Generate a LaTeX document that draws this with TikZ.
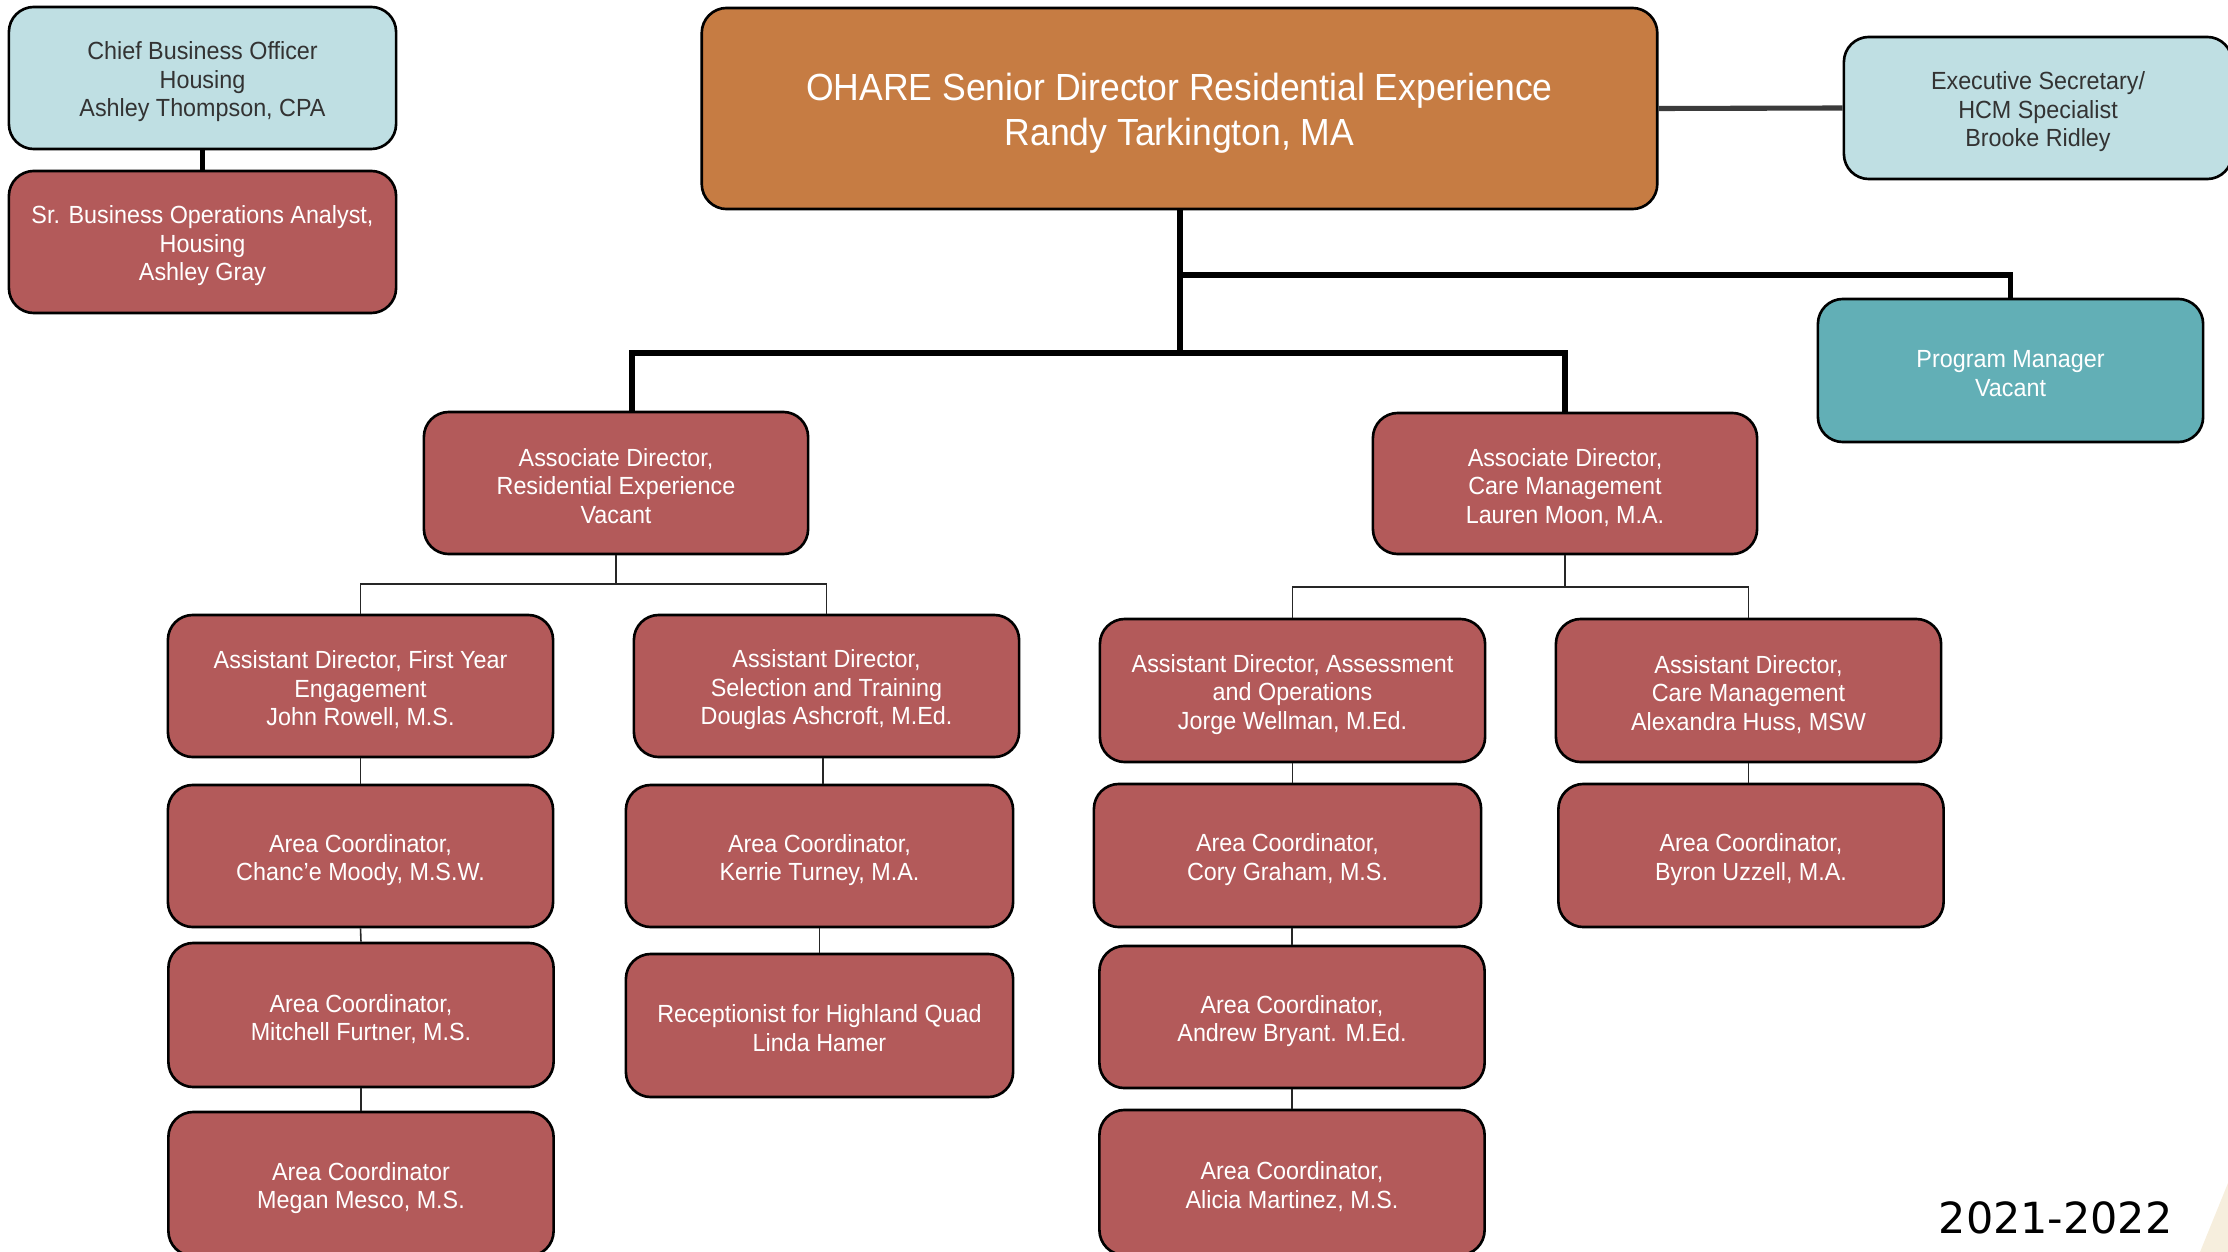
\documentclass[tikz,border=0pt]{standalone}
\usepackage{fontspec}
\setmainfont{Liberation Sans}[FakeStretch=0.94]
\newfontfamily\yearfont{DejaVu Sans}
\newcommand\boxfont{\fontsize{7.06pt}{8.1pt}\selectfont}
\newcommand\topfont{\fontsize{10.75pt}{12.8pt}\selectfont}
\newcommand\bxt[1]{\rule{0pt}{7.4pt}#1\rule[-0.8pt]{0pt}{0pt}}
\newcommand\ohtext[1]{\rule{0pt}{10.6pt}#1\rule[-2.1pt]{0pt}{0pt}}
\definecolor{redbox}{HTML}{B35A5A}
\definecolor{orangebox}{HTML}{C67C43}
\definecolor{lightbox}{HTML}{BFDFE3}
\definecolor{tealbox}{HTML}{62AFB6}
\definecolor{textgray}{HTML}{333333}
\definecolor{beige}{HTML}{F6EEDD}
\definecolor{linegray}{HTML}{3B3B3B}
\begin{document}
\begin{tikzpicture}[x=0.01cm,y=-0.01cm,
  box/.style={draw=black, line width=0.75pt, rounded corners=0.25cm,
    minimum width=3.85cm, minimum height=1.42cm, align=center,
    inner sep=0pt, font=\boxfont},
  redb/.style={box, fill=redbox, text=white},
  blueb/.style={box, fill=lightbox, text=textgray},
  tealb/.style={box, fill=tealbox, text=white},
  thickline/.style={line width=1.45pt, black},
  thinline/.style={line width=0.45pt, black!85}]
\useasboundingbox (0,0) rectangle (2228,1252);
\clip (0,0) rectangle (2228,1252);

% decoration
\fill[beige] (2200,1252) -- (2228,1183) -- (2228,1252) -- cycle;

% top level
\node[box, fill=orangebox, text=white, font=\topfont,
  minimum width=9.55cm, minimum height=2.01cm] (ohare) at (1179.5,108.5)
  {\ohtext{OHARE Senior Director Residential Experience\\Randy Tarkington, MA}};
\node[blueb, minimum width=3.87cm] (cbo) at (202.5,78)
  {\bxt{Chief Business Officer\\Housing\\Ashley Thompson, CPA}};
\node[redb, minimum width=3.87cm] (sba) at (202.5,242)
  {\bxt{Sr. Business Operations Analyst,\\Housing\\Ashley Gray}};
\node[blueb, minimum width=3.88cm] (exec) at (2038,108)
  {\bxt{Executive Secretary/\\HCM Specialist\\Brooke Ridley}};
\node[tealb, minimum height=1.43cm] (pm) at (2010.5,370.5)
  {\bxt{Program Manager\\Vacant}};

% associate directors
\node[redb, minimum width=3.84cm] (adres) at (616,483)
  {\bxt{Associate Director,\\Residential Experience\\Vacant}};
\node[redb, minimum width=3.84cm, minimum height=1.41cm] (adcare) at (1565,483.5)
  {\bxt{Associate Director,\\Care Management\\Lauren Moon, M.A.}};

% assistant directors
\node[redb] (a1) at (360.5,686)
  {\bxt{Assistant Director, First Year\\Engagement\\John Rowell, M.S.}};
\node[redb] (a2) at (826.5,686)
  {\bxt{Assistant Director,\\Selection and Training\\Douglas Ashcroft, M.Ed.}};
\node[redb, minimum height=1.43cm] (b1) at (1292.5,690.5)
  {\bxt{Assistant Director, Assessment\\and Operations\\Jorge Wellman, M.Ed.}};
\node[redb, minimum height=1.43cm] (b2) at (1748.5,690.5)
  {\bxt{Assistant Director,\\Care Management\\Alexandra Huss, MSW}};

% area coordinators
\node[redb] (a1c1) at (360.5,856) {\bxt{Area Coordinator,\\Chanc'e Moody, M.S.W.}};
\node[redb, minimum height=1.44cm] (a1c2) at (361,1015) {\bxt{Area Coordinator,\\Mitchell Furtner, M.S.}};
\node[redb, minimum height=1.44cm] (a1c3) at (361,1184) {\bxt{Area Coordinator\\Megan Mesco, M.S.}};
\node[redb, minimum width=3.87cm] (a2c1) at (819.5,856) {\bxt{Area Coordinator,\\Kerrie Turney, M.A.}};
\node[redb, minimum width=3.87cm, minimum height=1.43cm] (a2c2) at (819.5,1025.5)
  {\bxt{Receptionist for Highland Quad\\Linda Hamer}};
\node[redb, minimum width=3.87cm, minimum height=1.43cm] (b1c1) at (1287.5,855.5) {\bxt{Area Coordinator,\\Cory Graham, M.S.}};
\node[redb] (b1c2) at (1292,1017) {\bxt{Area Coordinator,\\Andrew Bryant. M.Ed.}};
\node[redb, minimum height=1.45cm] (b1c3) at (1292,1182.5) {\bxt{Area Coordinator,\\Alicia Martinez, M.S.}};
\node[redb, minimum height=1.43cm] (b2c1) at (1751,855.5) {\bxt{Area Coordinator,\\Byron Uzzell, M.A.}};

% year label
\node[anchor=base west, inner sep=0pt, font=\yearfont\fontsize{12.2pt}{14pt}\selectfont] (year) at (1938,1233) {2021-2022};

% junction coordinates
\coordinate (trunk) at (1180,353);
\coordinate (branch) at (1180,275);
\coordinate (jres) at (632,353);
\coordinate (hres) at (616,584);
\coordinate (hcare) at (1565,587);

% thick connectors
\draw[thickline] (cbo.south) -- (sba.north);
\draw[thickline, linegray] (ohare.east) -- (exec.west);
\draw[thickline] (ohare.south -| trunk) -- (trunk);
\draw[thickline] (branch) -| (pm.north);
\draw[thickline] (adres.north -| jres) |- (trunk) -| (adcare.north);

% thin connectors
\draw[thinline] (adres.south) -- (hres);
\draw[thinline] (a1.north) |- (hres) -| (a2.north);
\draw[thinline] (adcare.south) -- (hcare);
\draw[thinline] (b1.north) |- (hcare) -| (b2.north);

\draw[thinline] (a1.south) -- (a1c1.north);
\draw[thinline] (a1c1.south) -- (a1c2.north);
\draw[thinline] (a1c2.south) -- (a1c3.north);
\draw[thinline] (a2c1.north -| 823,0) -- (a2.south -| 823,0);
\draw[thinline] (a2c1.south) -- (a2c2.north);
\draw[thinline] (b1.south) -- (b1.south |- b1c1.north);
\draw[thinline] (b1c2.north) -- (b1c2.north |- b1c1.south);
\draw[thinline] (b1c2.south) -- (b1c3.north);
\draw[thinline] (b2.south) -- (b2.south |- b2c1.north);
\end{tikzpicture}
\end{document}
